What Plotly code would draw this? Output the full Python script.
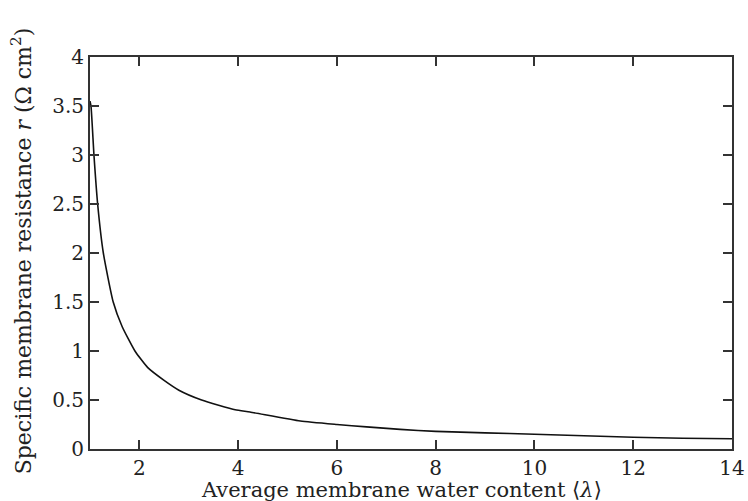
import plotly.graph_objects as go

water_content = [1.0, 1.02, 1.08, 1.155, 1.27, 1.47, 1.65, 1.91, 2.17, 2.5, 2.8, 3.26,
                 3.94, 4.24, 5.26, 6.0, 6.6, 7.28, 8.0, 9.0, 10.0, 11.0, 12.0, 13.0, 14.0]
resistance = [3.55, 3.5, 3.0, 2.5, 2.0, 1.5, 1.25, 1.0, 0.83, 0.70, 0.60, 0.50,
              0.40, 0.377, 0.285, 0.25, 0.226, 0.20, 0.18, 0.165, 0.15, 0.135, 0.12, 0.11, 0.105]

x_ticks = [2, 4, 6, 8, 10, 12, 14]
y_ticks = [0, 0.5, 1, 1.5, 2, 2.5, 3, 3.5, 4]
y_tick_labels = ["0", "0.5", "1", "1.5", "2", "2.5", "3", "3.5", "4"]

x_title = "Average membrane water content ⟨<i>λ</i>⟩"
y_title = "Specific membrane resistance <i>r</i> (Ω cm<sup>2</sup>)"

font_family = "DejaVu Serif, Liberation Serif, serif"
text_color = "#222222"

fig = go.Figure()
fig.add_trace(go.Scatter(x=water_content, y=resistance, mode="lines",
                         line=dict(color="#111111", width=1.6, shape="spline", smoothing=0.5),
                         showlegend=False))

axis_common = dict(showgrid=False, zeroline=False, showline=True, linecolor="#333333",
                   linewidth=2, mirror="ticks", ticks="inside", ticklen=9, tickwidth=1.5,
                   tickcolor="#333333", automargin=False)

fig.update_xaxes(range=[1, 14], tickvals=x_ticks, ticktext=[str(v) for v in x_ticks],
                 tickfont=dict(family=font_family, size=20, color=text_color),
                 **axis_common)
fig.update_yaxes(range=[0, 4], tickvals=y_ticks, ticktext=y_tick_labels,
                 tickfont=dict(family=font_family, size=20, color=text_color),
                 **axis_common)

# axis titles placed in paper coords
fig.add_annotation(text=x_title, xref="paper", yref="paper", x=0.485, y=-0.105,
                   xanchor="center", yanchor="middle", showarrow=False,
                   font=dict(family=font_family, size=21, color=text_color))
fig.add_annotation(text=y_title, xref="paper", yref="paper", x=-0.107, y=0.505,
                   xanchor="center", yanchor="middle", showarrow=False, textangle=-90,
                   font=dict(family=font_family, size=22, color=text_color))

fig.update_layout(width=748, height=501, autosize=False,
                  plot_bgcolor="white", paper_bgcolor="white",
                  margin=dict(l=90, r=16, t=57, b=52, autoexpand=False))

fig.write_html("out.html",
               config={"displayModeBar": False, "responsive": False},
               post_script="document.body.style.margin='0';document.body.style.overflow='hidden';")
